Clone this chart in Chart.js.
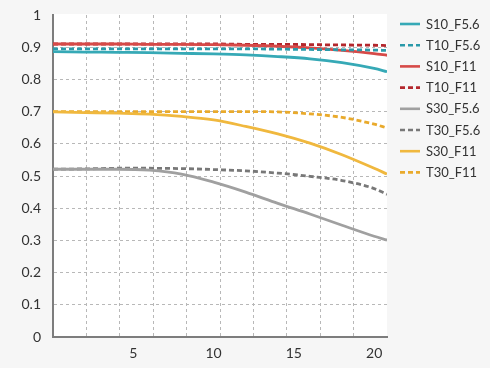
<!DOCTYPE html>
<html>
<head>
<meta charset="utf-8">
<script src="https://cdn.jsdelivr.net/npm/chart.js@4.4.0/dist/chart.umd.min.js"></script>
<style>
  html, body { margin: 0; padding: 0; background: #f6f6f6; }
  #wrap { width: 490px; height: 368px; position: relative; }
</style>
</head>
<body>
<div id="wrap"><canvas id="c" width="490" height="368"></canvas></div>
<script>
// ---- data ----
const xValues   = [0, 2, 4, 6, 8, 10, 12, 14, 16, 18, 20, 20.8];
const s10_f56   = [0.886, 0.885, 0.884, 0.883, 0.881, 0.879, 0.876, 0.871, 0.864, 0.852, 0.834, 0.824];
const t10_f56   = [0.895, 0.895, 0.895, 0.895, 0.895, 0.895, 0.895, 0.894, 0.893, 0.892, 0.891, 0.890];
const s10_f11   = [0.910, 0.910, 0.910, 0.909, 0.909, 0.908, 0.906, 0.903, 0.898, 0.890, 0.880, 0.875];
const t10_f11   = [0.910, 0.910, 0.910, 0.910, 0.910, 0.910, 0.909, 0.909, 0.908, 0.907, 0.906, 0.905];
const s30_f56   = [0.521, 0.521, 0.521, 0.518, 0.506, 0.481, 0.450, 0.415, 0.382, 0.347, 0.313, 0.301];
const t30_f56   = [0.521, 0.522, 0.524, 0.524, 0.523, 0.520, 0.516, 0.509, 0.499, 0.486, 0.461, 0.443];
const s30_f11   = [0.699, 0.697, 0.695, 0.692, 0.685, 0.674, 0.654, 0.631, 0.602, 0.566, 0.524, 0.506];
const t30_f11   = [0.700, 0.700, 0.700, 0.700, 0.700, 0.700, 0.700, 0.699, 0.693, 0.682, 0.661, 0.649];
const seriesNames = ['S10_F5.6', 'T10_F5.6', 'S10_F11', 'T10_F11', 'S30_F5.6', 'T30_F5.6', 'S30_F11', 'T30_F11'];
const xTickLabels = [5, 10, 15, 20];
const yTickLabels = ['0', '0.1', '0.2', '0.3', '0.4', '0.5', '0.6', '0.7', '0.8', '0.9', '1'];
const xMax = 20.8;

// ---- styles ----
const colors = ['#36a9b6', '#2a9aaa', '#d64a48', '#b3272d', '#a0a0a0', '#787878', '#f0b83e', '#e9aa2c'];
const dashed = [false, true, false, true, false, true, false, true];
const seriesData = [s10_f56, t10_f56, s10_f11, t10_f11, s30_f56, t30_f56, s30_f11, t30_f11];

const datasets = seriesNames.map((name, i) => ({
  label: name,
  data: xValues.map((x, j) => ({ x: x, y: seriesData[i][j] })),
  borderColor: colors[i],
  backgroundColor: colors[i],
  borderWidth: 2.8,
  borderDash: dashed[i] ? [5, 3] : [],
  pointRadius: 0,
  cubicInterpolationMode: 'monotone',
  fill: false
}));

const gridX = [];
for (let i = 1; i < 10; i++) gridX.push(+(i * xMax / 10).toFixed(4));

const plotBg = {
  id: 'plotBg',
  beforeDraw(chart) {
    const { ctx, chartArea: a } = chart;
    ctx.save();
    ctx.fillStyle = '#ffffff';
    ctx.fillRect(a.left, a.top - 1, a.right - a.left, a.bottom - a.top + 1);
    ctx.restore();
  }
};

const legendPlugin = {
  id: 'customLegend',
  afterDraw(chart) {
    const ctx = chart.ctx;
    ctx.save();
    ctx.font = '13px Lato';
    ctx.textBaseline = 'middle';
    ctx.textAlign = 'left';
    chart.data.datasets.forEach((ds, i) => {
      const y = 24 + i * 21.2;
      ctx.strokeStyle = ds.borderColor;
      ctx.lineWidth = 2.6;
      ctx.setLineDash(ds.borderDash || []);
      ctx.beginPath();
      ctx.moveTo(400, y);
      ctx.lineTo(420, y);
      ctx.stroke();
      ctx.setLineDash([]);
      ctx.fillStyle = '#333333';
      ctx.fillText(ds.label, 426, y + 0.5);
    });
    ctx.restore();
  }
};

new Chart(document.getElementById('c'), {
  type: 'line',
  data: { datasets },
  options: {
    responsive: false,
    animation: false,
    devicePixelRatio: 1,
    layout: { padding: { top: 15, right: 103, left: 0, bottom: 0 } },
    plugins: { legend: { display: false }, tooltip: { enabled: false } },
    scales: {
      x: {
        type: 'linear',
        min: 0,
        max: xMax,
        afterBuildTicks(scale) {
          const vals = gridX.concat(xTickLabels).sort((a, b) => a - b);
          scale.ticks = vals.map(v => ({ value: v }));
        },
        afterFit(scale) { scale.height = 31; scale.paddingLeft = 0; scale.paddingRight = 0; },
        ticks: {
          autoSkip: false,
          maxRotation: 0,
          padding: 8,
          color: '#333333',
          font: { family: 'Lato', size: 14 },
          callback: (v) => xTickLabels.includes(v) ? String(v) : ''
        },
        grid: {
          drawTicks: false,
          color: (ctx) => (ctx.tick && gridX.includes(ctx.tick.value)) ? '#b8b8b8' : 'rgba(0,0,0,0)',
          lineWidth: 1
        },
        border: { display: true, color: '#7d7d7d', width: 2, dash: [3, 3] }
      },
      y: {
        min: 0,
        max: 1,
        afterFit(scale) { scale.width = 53; scale.paddingTop = 0; scale.paddingBottom = 0; },
        ticks: {
          stepSize: 0.1,
          padding: 12,
          color: '#333333',
          font: { family: 'Lato', size: 14 },
          callback: (v, i) => yTickLabels[i]
        },
        grid: {
          drawTicks: false,
          color: (ctx) => (ctx.index > 0 && ctx.index < 10) ? '#b8b8b8' : 'rgba(0,0,0,0)',
          lineWidth: 1
        },
        border: { display: true, color: '#7d7d7d', width: 2, dash: [3, 3] }
      }
    }
  },
  plugins: [plotBg, legendPlugin]
});
</script>
</body>
</html>
